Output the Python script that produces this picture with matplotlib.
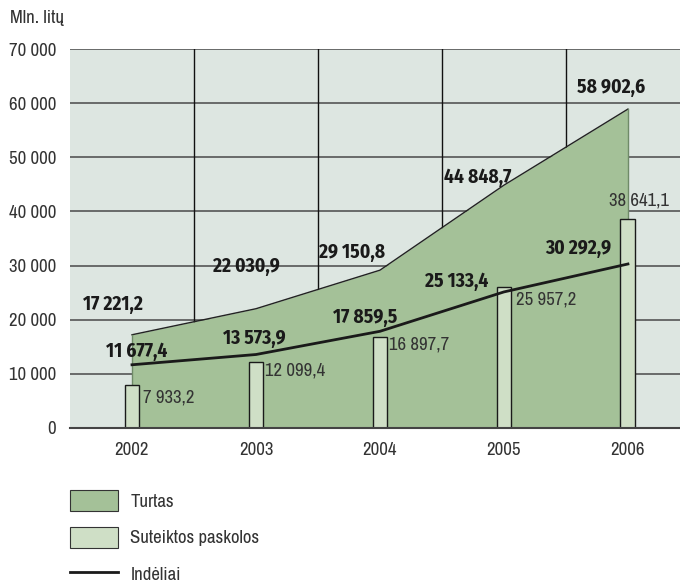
import matplotlib
matplotlib.use("Agg")
import matplotlib.pyplot as plt
import numpy as np
from matplotlib.patches import Patch
from matplotlib.lines import Line2D

years = ['2002', '2003', '2004', '2005', '2006']
turtas = [17221.2, 22030.9, 29150.8, 44848.7, 58902.6]
paskolos = [7933.2, 12099.4, 16897.7, 25957.2, 38641.1]
indeliai = [11677.4, 13573.9, 17859.5, 25133.4, 30292.9]
yticks = [0, 10000, 20000, 30000, 40000, 50000, 60000, 70000]

# label offsets in pixels (dx, dy)
turtas_off = [(-19, 30), (-10, 42), (-28, 18), (-26, 8), (-17, 22)]
indeliai_off = [(5, 13), (-2, 16), (-15, 14), (-47, 11), (-50, 16)]
paskolos_off = [(11, -12), (9, -8), (9, -8), (12, -12), (-19, 18)]

def fmt(v, dec=True):
    s = f'{v:,.1f}' if dec else f'{v:,.0f}'
    return s.replace(',', ' ').replace('.', ',')

plt.rcParams['font.family'] = ['Archivo Narrow', 'Liberation Sans', 'DejaVu Sans']
BOLD_FAM = ['Fira Sans Condensed', 'Archivo Narrow', 'DejaVu Sans']
BG = '#dde6e1'
AREA = '#a4c198'
BAR = '#cfdfc6'

fig = plt.figure(figsize=(6.8, 5.83), dpi=100)
ax = fig.add_axes([70/680, 155/583, 610/680, 379/583])
ax.set_facecolor(BG)

x = np.arange(len(years))
ax.fill_between(x, 0, turtas, color=AREA, lw=0, zorder=2)
ax.plot(x, turtas, color='#222222', lw=1, zorder=3)
ax.plot([x[0], x[0]], [0, turtas[0]], color='#6f8a68', lw=1, zorder=3)
ax.plot([x[-1], x[-1]], [0, turtas[-1]], color='#6f8a68', lw=1, zorder=3)
ax.bar(x, paskolos, width=0.12, color=BAR, edgecolor='#1a1a1a', lw=1, zorder=4)
ax.plot(x, indeliai, color='#1a1a1a', lw=2, zorder=5)

for i in range(len(x)):
    ax.annotate(fmt(turtas[i]), (x[i], turtas[i]), xytext=turtas_off[i],
                textcoords='offset pixels', ha='center', va='center',
                fontsize=14, fontweight='bold', family=BOLD_FAM,
                color='#1a1a1a', zorder=6)
    ax.annotate(fmt(indeliai[i]), (x[i], indeliai[i]), xytext=indeliai_off[i],
                textcoords='offset pixels', ha='center', va='center',
                fontsize=14, fontweight='bold', family=BOLD_FAM,
                color='#1a1a1a', zorder=6)
    ax.annotate(fmt(paskolos[i]), (x[i], paskolos[i]), xytext=paskolos_off[i],
                textcoords='offset pixels', ha='left', va='center',
                fontsize=13.5, color='#333333', zorder=6)

ax.set_xlim(-0.5, 4.42)
ax.set_ylim(0, 70000)
ax.set_yticks(yticks)
ax.set_yticklabels([fmt(v, False) for v in yticks])
ax.set_xticks(x)
ax.set_xticklabels(years)
ax.set_xticks(x[:-1] + 0.5, minor=True)
ax.tick_params(axis='y', length=0, pad=10, labelsize=13.5, labelcolor='#333333')
ax.tick_params(axis='x', which='major', length=0, pad=10, labelsize=13.5, labelcolor='#333333')
ax.tick_params(axis='x', which='minor', direction='in', length=5, color='#333333')
for s in ['top', 'right', 'left']:
    ax.spines[s].set_visible(False)
ax.spines['bottom'].set_color('#444444')
ax.spines['bottom'].set_linewidth(1.5)
ax.spines['bottom'].set_zorder(7)

for v in yticks[1:]:
    ax.axhline(v, color='#555555', lw=1.2, zorder=1)
for v in x[:-1] + 0.5:
    ax.axvline(v, color='#111111', lw=1, zorder=1)

fig.text(10/680, 1 - 18/583, 'Mln. litų', fontsize=13.5, color='#333333',
         ha='left', va='center')

handles = [Patch(facecolor=AREA, edgecolor='#333333', lw=0.8),
           Patch(facecolor=BAR, edgecolor='#333333', lw=0.8),
           Line2D([0], [0], color='#1a1a1a', lw=2)]
fig.legend(handles, ['Turtas', 'Suteiktos paskolos', 'Indėliai'],
           loc='upper left', bbox_to_anchor=(70/680, 1 - 490/583),
           frameon=False, fontsize=13.5, handlelength=2.55, handleheight=1.33,
           labelspacing=0.85, handletextpad=0.67, borderpad=0, borderaxespad=0,
           labelcolor='#333333')

fig.savefig('out.png', dpi=100)
